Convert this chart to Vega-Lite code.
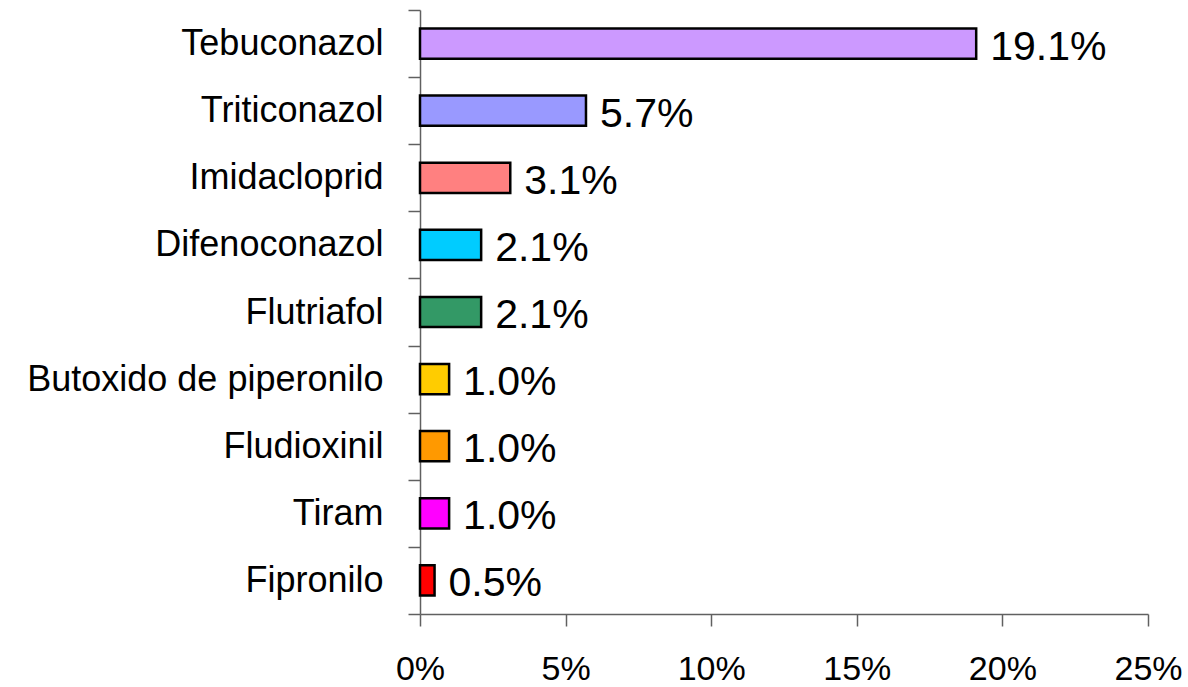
{
  "$schema": "https://vega.github.io/schema/vega-lite/v6.json",
  "width": 728,
  "height": 604,
  "autosize": {"type": "none"},
  "padding": {"left": 420, "top": 10, "right": 40, "bottom": 73},
  "background": "white",
  "config": {"view": {"stroke": null}, "font": "Liberation Sans"},
  "data": {
    "values": [
      {"name": "Tebuconazol", "value": 0.191},
      {"name": "Triticonazol", "value": 0.057},
      {"name": "Imidacloprid", "value": 0.031},
      {"name": "Difenoconazol", "value": 0.021},
      {"name": "Flutriafol", "value": 0.021},
      {"name": "Butoxido de piperonilo", "value": 0.010},
      {"name": "Fludioxinil", "value": 0.010},
      {"name": "Tiram", "value": 0.010},
      {"name": "Fipronilo", "value": 0.005}
    ]
  },
  "encoding": {
    "y": {
      "field": "name",
      "type": "nominal",
      "sort": null,
      "title": null,
      "scale": {"paddingInner": 0, "paddingOuter": 0},
      "axis": {
        "tickBand": "extent",
        "tickSize": 12,
        "tickColor": "#606060",
        "tickWidth": 1.5,
        "domainColor": "#606060",
        "domainWidth": 1.5,
        "labelFontSize": 36,
        "labelColor": "black",
        "labelPadding": 25,
        "labelLimit": 500,
        "grid": false
      }
    },
    "x": {
      "field": "value",
      "type": "quantitative",
      "title": null,
      "scale": {"domain": [0, 0.25], "nice": false},
      "axis": {
        "values": [0, 0.05, 0.1, 0.15, 0.2, 0.25],
        "format": ".0%",
        "tickSize": 12,
        "tickColor": "#606060",
        "tickWidth": 1.5,
        "domainColor": "#606060",
        "domainWidth": 1.5,
        "labelFontSize": 34,
        "labelColor": "black",
        "labelPadding": 26,
        "labelFlush": false,
        "grid": false
      }
    }
  },
  "layer": [
    {
      "mark": {"type": "bar", "stroke": "black", "strokeWidth": 2.5, "height": {"band": 0.45}},
      "encoding": {
        "color": {
          "field": "name",
          "type": "nominal",
          "legend": null,
          "scale": {
            "domain": ["Tebuconazol", "Triticonazol", "Imidacloprid", "Difenoconazol", "Flutriafol", "Butoxido de piperonilo", "Fludioxinil", "Tiram", "Fipronilo"],
            "range": ["#CC99FF", "#9999FF", "#FF8080", "#00CCFF", "#339966", "#FFCC00", "#FF9900", "#FF00FF", "#FF0000"]
          }
        }
      }
    },
    {
      "mark": {"type": "text", "align": "left", "baseline": "middle", "dx": 14, "dy": 4, "fontSize": 41, "color": "black"},
      "encoding": {
        "text": {"field": "value", "type": "quantitative", "format": ".1%"}
      }
    }
  ]
}
